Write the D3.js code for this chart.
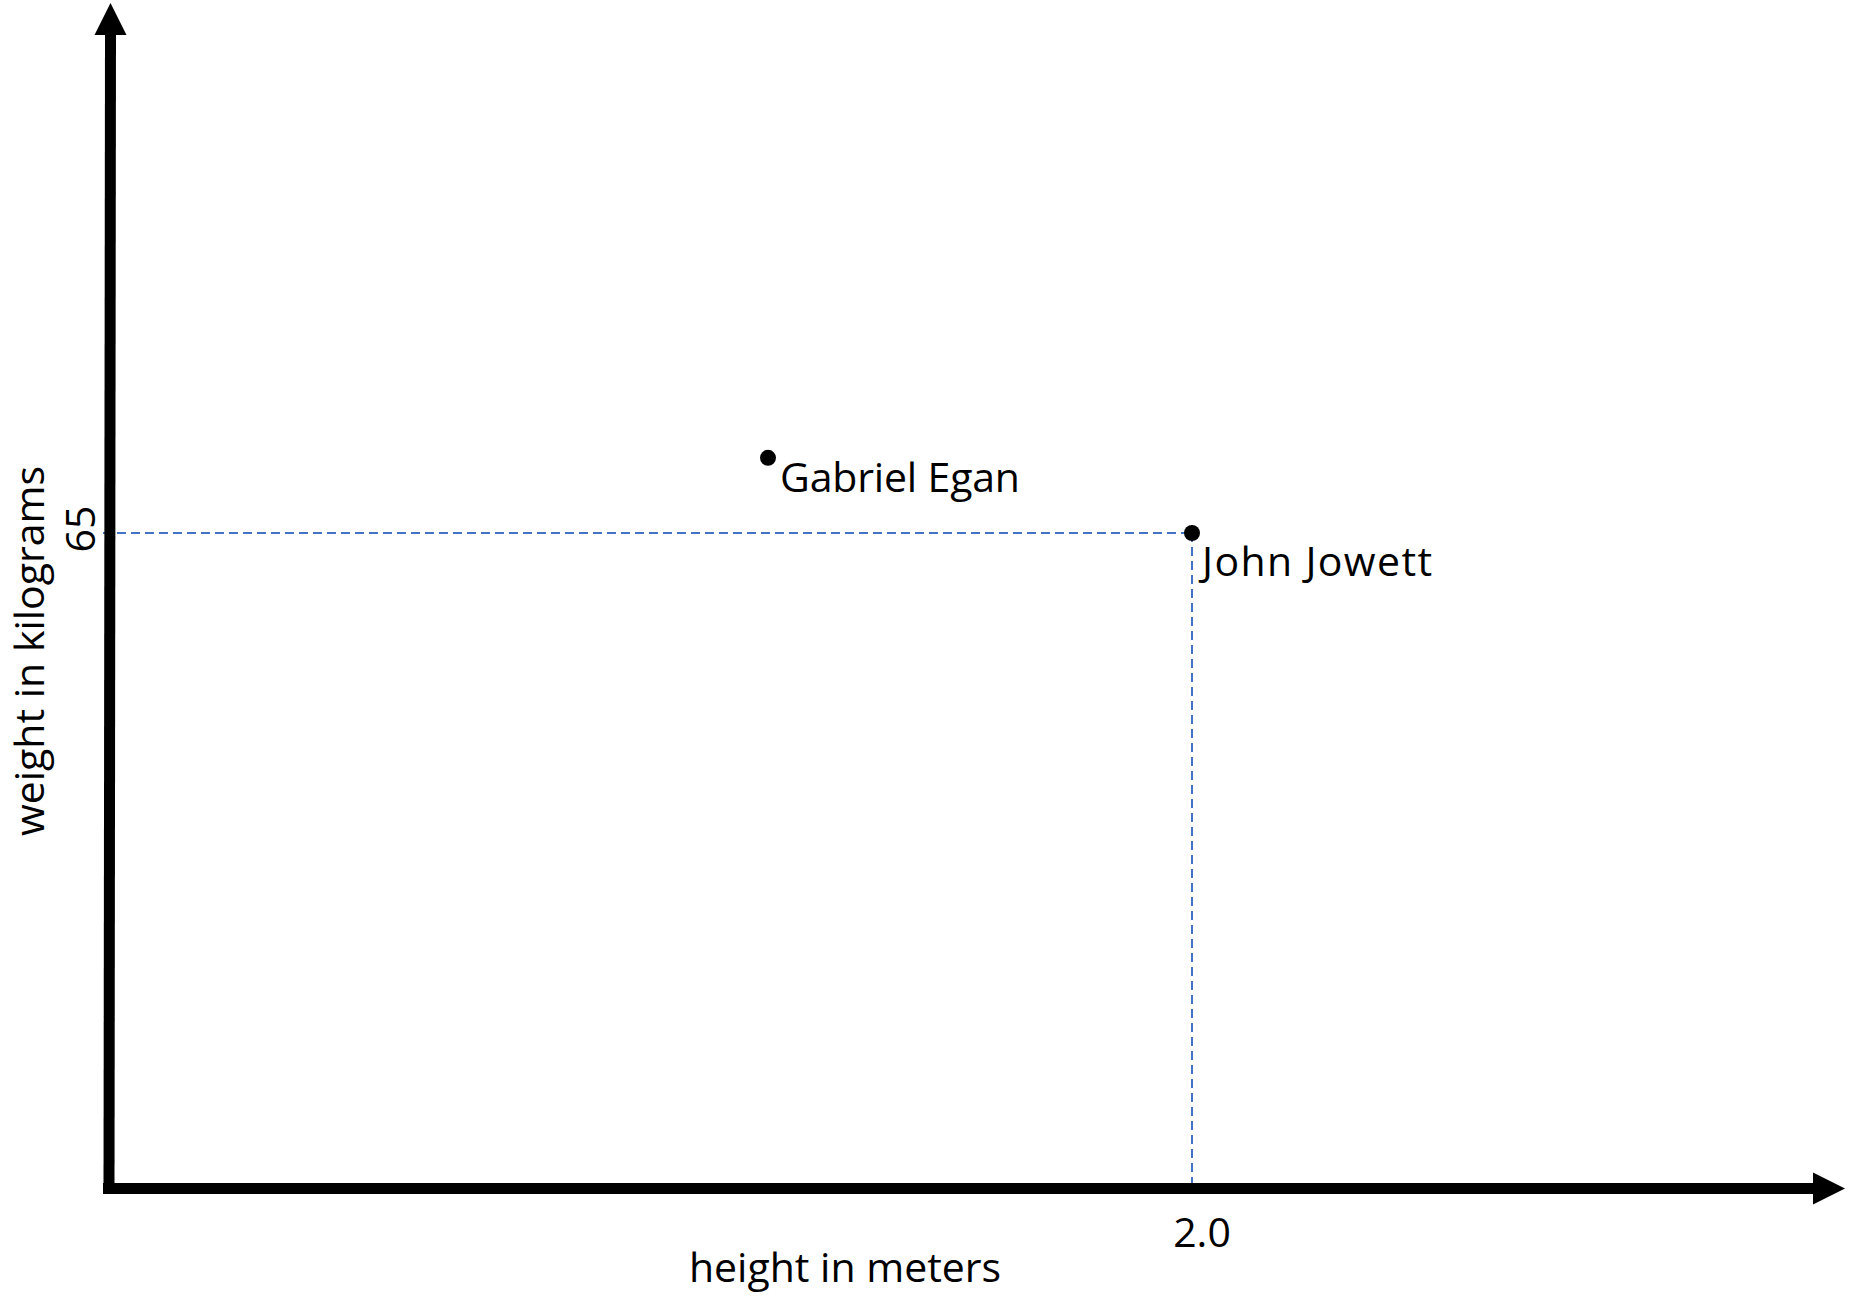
<!DOCTYPE html>
<html>
<head>
<meta charset="utf-8">
<script src="https://cdn.jsdelivr.net/npm/d3@7"></script>
<style>
  html, body { margin: 0; padding: 0; background: #fff; }
  svg { display: block; }
  text { font-family: "Open Sans", sans-serif; fill: #000; }
</style>
</head>
<body>
<script>
// ---- data ----
const names = ["Gabriel Egan", "John Jowett"];
const heights = [1.217, 2.0];      // meters
const weights = [72.45, 65];       // kilograms
const xTickValues = [2.0];
const yTickValues = [65];
const xTitle = "height in meters";
const yTitle = "weight in kilograms";
const guideIndex = 1;              // point that gets dashed guide lines

const W = 1865, H = 1297;
const svg = d3.select("body").append("svg").attr("width", W).attr("height", H);

const x = d3.scaleLinear().domain([0, 2.0]).range([109, 1192]);
const y = d3.scaleLinear().domain([0, 65]).range([1188.5, 533]);

const FS = 41;
const blue = "#4472C4";

// dashed guide lines
const gi = guideIndex;
svg.append("line")
  .attr("x1", x(0) - 6).attr("x2", x(heights[gi]))
  .attr("y1", y(weights[gi])).attr("y2", y(weights[gi]))
  .attr("stroke", blue).attr("stroke-width", 2).attr("stroke-dasharray", "9,5");
svg.append("line")
  .attr("x1", x(heights[gi])).attr("x2", x(heights[gi]))
  .attr("y1", y(weights[gi])).attr("y2", y(0))
  .attr("stroke", blue).attr("stroke-width", 2).attr("stroke-dasharray", "9,5");

// axes (thick black with arrowheads)
const ax = svg.append("g");
const x0 = x(0), y0 = y(0);
ax.append("path")
  .attr("d", `M${x0 + 1.5},34 L${x0},${y0 + 5.5}`)
  .attr("stroke", "#000").attr("stroke-width", 11).attr("fill", "none");
ax.append("path")
  .attr("d", `M${x0 - 5.5},${y0} L1814,${y0}`)
  .attr("stroke", "#000").attr("stroke-width", 11).attr("fill", "none");
ax.append("rect").attr("x", x0 - 6).attr("y", y0 - 5.5).attr("width", 11).attr("height", 11).attr("fill", "#000");
ax.append("path")
  .attr("d", `M${x0 + 1.5},3 L${x0 + 17.5},35 L${x0 - 14.5},35 Z`).attr("fill", "#000");
ax.append("path")
  .attr("d", `M1845,${y0} L1813,${y0 - 16} L1813,${y0 + 16} Z`).attr("fill", "#000");

// tick labels
svg.selectAll("text.xtick").data(xTickValues).join("text")
  .attr("class", "xtick")
  .attr("x", d => x(d) + 10).attr("y", 1247)
  .attr("text-anchor", "middle").attr("font-size", FS)
  .text(d => d.toFixed(1));
svg.selectAll("text.ytick").data(yTickValues).join("text")
  .attr("class", "ytick")
  .attr("transform", d => `translate(95,${y(d) - 4}) rotate(-90)`)
  .attr("text-anchor", "middle").attr("font-size", FS)
  .text(d => String(d));

// axis titles
svg.append("text")
  .attr("x", 845).attr("y", 1282)
  .attr("text-anchor", "middle").attr("font-size", FS)
  .text(xTitle);
svg.append("text")
  .attr("transform", "translate(44,651) rotate(-90)")
  .attr("text-anchor", "middle").attr("font-size", FS)
  .text(yTitle);

// points
const pts = names.map((n, i) => ({ name: n, h: heights[i], w: weights[i] }));
svg.selectAll("circle.pt").data(pts).join("circle")
  .attr("class", "pt")
  .attr("cx", d => x(d.h)).attr("cy", d => y(d.w)).attr("r", 8).attr("fill", "#000");

const labelOffsets = [[12, 34], [10, 43]];
const labelWidths = [240, 230];
svg.selectAll("text.lbl").data(pts).join("text")
  .attr("class", "lbl")
  .attr("x", (d, i) => x(d.h) + labelOffsets[i][0])
  .attr("y", (d, i) => y(d.w) + labelOffsets[i][1])
  .attr("font-size", FS)
  .attr("textLength", (d, i) => labelWidths[i])
  .attr("lengthAdjust", "spacing")
  .text(d => d.name);
</script>
</body>
</html>
